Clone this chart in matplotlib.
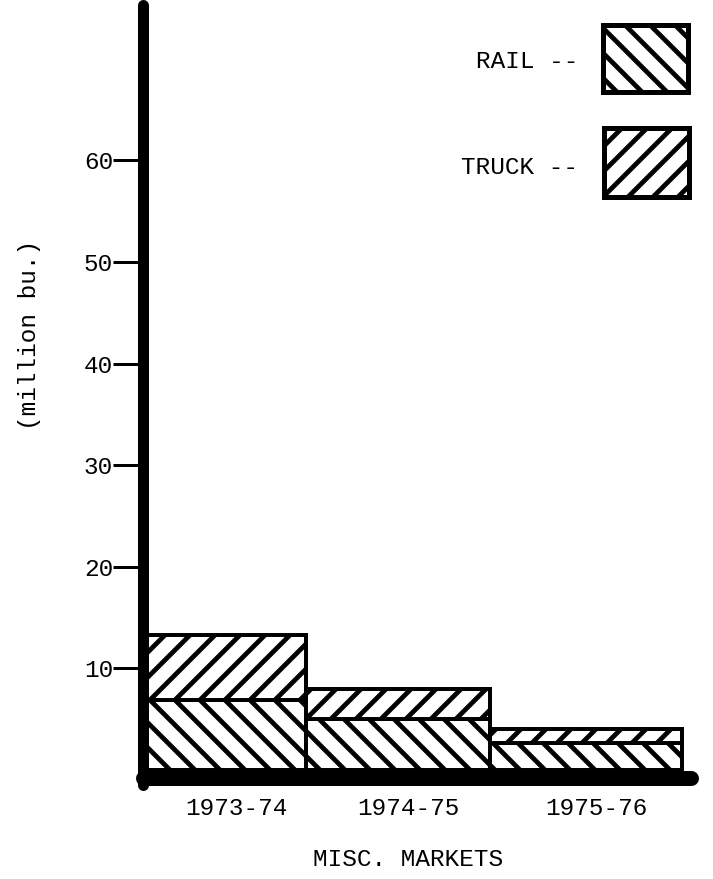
import matplotlib
matplotlib.use("Agg")
import matplotlib.pyplot as plt
from matplotlib.patches import Rectangle

# data (million bu.)
years = ["1973-74", "1974-75", "1975-76"]
rail = [6.9, 5.0, 2.7]
truck = [6.4, 3.0, 1.3]
yticks = [10, 20, 30, 40, 50, 60]

# layout, pixel-ish units (x data = pixels right of the y axis)
DPI = 150
W, H = 713, 879
edges = [4, 163, 347, 539]
FONT = ["Liberation Mono", "DejaVu Sans Mono"]
FS = 11.7
RAIL_HATCH = "\\\\"
TRUCK_HATCH = "//"

plt.rcParams["font.family"] = FONT
plt.rcParams["hatch.linewidth"] = 2.3

fig = plt.figure(figsize=(W / DPI, H / DPI), dpi=DPI)
ax = fig.add_axes([143 / W, 1 - 790 / H, 562 / W, 785 / H])
ax.set_xlim(0, 562)
ax.set_ylim(-1.97, 75.3)

lefts = edges[:-1]
widths = [b - a for a, b in zip(edges[:-1], edges[1:])]
ax.bar(lefts, rail, width=widths, align="edge", color="white",
       edgecolor="black", linewidth=1.9, hatch=RAIL_HATCH, zorder=1)
ax.bar(lefts, truck, width=widths, bottom=rail, align="edge", color="white",
       edgecolor="black", linewidth=1.9, hatch=TRUCK_HATCH, zorder=1)

# heavy hand-drawn axes
for s in ["top", "right"]:
    ax.spines[s].set_visible(False)
ax.spines["left"].set_linewidth(5.3)
ax.spines["left"].set_bounds(-1.5, 75.3)
ax.spines["left"].set_capstyle("round")
ax.spines["bottom"].set_linewidth(7.2)
ax.spines["bottom"].set_position(("data", -0.79))
ax.spines["bottom"].set_bounds(0, 548)
ax.spines["bottom"].set_capstyle("round")

ax.set_yticks(yticks)
ax.set_yticklabels([str(v) for v in yticks], fontsize=FS)
ax.tick_params(axis="y", length=14.4, width=1.44, pad=0)

centers = [a + w / 2 + 10 for a, w in zip(lefts, widths)]
ax.set_xticks(centers)
ax.set_xticklabels(years, fontsize=FS)
ax.tick_params(axis="x", length=0, pad=9)

fig.text(408 / W, 1 - 860 / H, "MISC. MARKETS", fontsize=FS,
         ha="center", va="center")
fig.text(30 / W, 1 - 335 / H, "(million bu.)", fontsize=FS,
         rotation=90, ha="center", va="center")

# legend drawn by hand, like the original
for label, hatch, (x0, y0, x1, y1), ty in [
        ("RAIL --", RAIL_HATCH, (603, 25, 688, 92), 62),
        ("TRUCK --", TRUCK_HATCH, (604, 128, 689, 197), 168)]:
    fig.add_artist(Rectangle((x0 / W, 1 - y1 / H), (x1 - x0) / W, (y1 - y0) / H,
                             transform=fig.transFigure, facecolor="white",
                             edgecolor="black", linewidth=2.4, hatch=hatch))
    fig.text(578 / W, 1 - ty / H, label, fontsize=FS, ha="right", va="center")

fig.savefig("out.png", dpi=DPI)
